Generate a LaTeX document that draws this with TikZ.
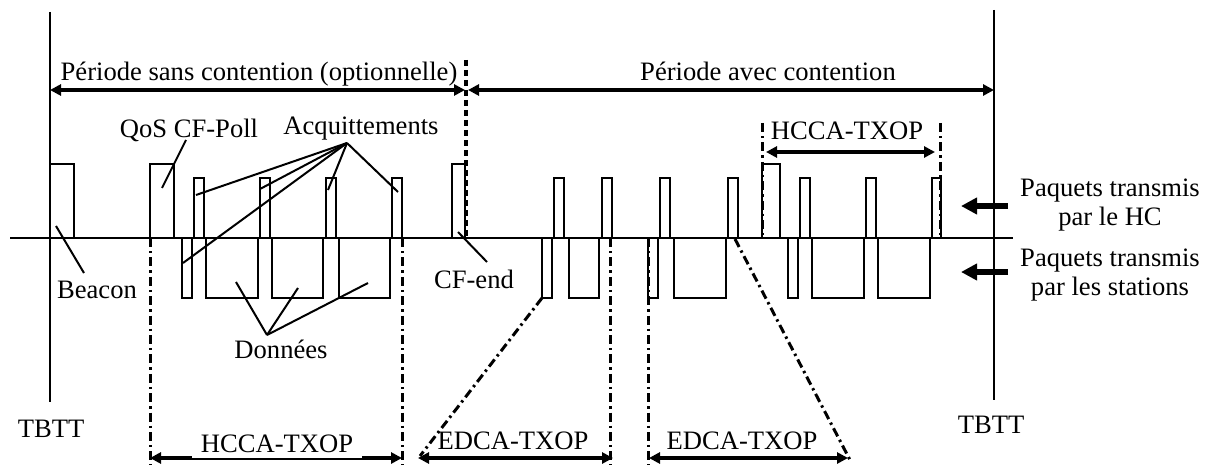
\documentclass[tikz,border=0pt]{standalone}
\usepackage{fontspec}
\setmainfont{Liberation Serif}
\usetikzlibrary{arrows.meta}
\begin{document}
\begin{tikzpicture}[x=0.5pt,y=-0.5pt,
  font=\fontsize{13.3}{14.8}\selectfont,
  pkt/.style={draw=black,line width=1.1pt},
  axisline/.style={line width=1.1pt},
  leader/.style={line width=1pt},
  ddot/.style={line width=1.5pt, dash pattern=on 4.5pt off 2pt on 1.2pt off 2pt},
  dsh/.style={line width=1.6pt, dash pattern=on 3pt off 2pt},
  span/.style={line width=1.9pt, {Triangle[length=5.5pt,width=5.5pt]}-{Triangle[length=5.5pt,width=5.5pt]}},
  pointer/.style={line width=2.7pt, -{Triangle[length=8pt,width=8pt]}},
  lbl/.style={anchor=base, inner sep=0pt},
]
\useasboundingbox (0,0) rectangle (1209,465);

% packets sent by the HC (above the axis)
\foreach \a/\b in {50/74,150/174,452/465,762/780}
  \draw[pkt] (\a,238) rectangle (\b,164);
\foreach \a/\b in {194/204,260/270,326/336,392/402,554/564,602/612,660/670,728/738,800/810,866/876,932/941}
  \draw[pkt] (\a,238) rectangle (\b,178);
% packets sent by the stations (below the axis)
\foreach \a/\b in {182/192,206/258,272/323,339/390,542/552,569/599,648/658,674/726,788/798,812/864,878/930}
  \draw[pkt] (\a,238) rectangle (\b,298);

% time axis and TBTT markers
\coordinate (axL) at (10,238);
\coordinate (axR) at (1013,238);
\draw[axisline] (axL) -- (axR);
\coordinate (t1a) at (50,12);  \coordinate (t1b) at (50,402);
\coordinate (t2a) at (994,10); \coordinate (t2b) at (994,400);
\draw[axisline] (t1a) -- (t1b);
\draw[axisline] (t2a) -- (t2b);
\node[lbl] (tbtt1) at (51,437) {TBTT};
\node[lbl] (tbtt2) at (991,433) {TBTT};

% periods
\coordinate (sep1) at (466,60); \coordinate (sep2) at (466,238);
\draw[dsh] (sep1) -- (sep2);
\coordinate (pA) at (50,90); \coordinate (pB) at (465,90);
\coordinate (pC) at (468,90); \coordinate (pD) at (994,90);
\draw[span] (pA) -- (pB);
\draw[span] (pC) -- (pD);
\node[lbl] (cfp) at (259,81) {Période sans contention (optionnelle)};
\node[lbl] (cp) at (768,81) {Période avec contention};

% labels with leader lines
\node[lbl] (qos) at (189,138) {QoS CF-Poll};
\coordinate (qos1) at (186,140); \coordinate (qos2) at (162,188);
\draw[leader] (qos1) -- (qos2);

\node[lbl] (acq) at (361,134) {Acquittements};
\coordinate (acqp) at (347,143);
\coordinate (k1) at (196,195);
\coordinate (k2) at (260,189);
\coordinate (k3) at (183,263);
\coordinate (k4) at (328,190);
\coordinate (k5) at (398,192);
\foreach \k in {k1,k2,k3,k4,k5} \draw[leader] (acqp) -- (\k);

\node[lbl] (beacon) at (97,298) {Beacon};
\coordinate (b1) at (56,226); \coordinate (b2) at (84,273);
\draw[leader] (b1) -- (b2);

\node[lbl] (cfend) at (474,288) {CF-end};
\coordinate (c1) at (458,232); \coordinate (c2) at (487,262);
\draw[leader] (c1) -- (c2);

\node[lbl] (don) at (281,358) {Données};
\coordinate (dp) at (267,335);
\coordinate (d1) at (236,282);
\coordinate (d2) at (298,288);
\coordinate (d3) at (368,283);
\foreach \k in {d1,d2,d3} \draw[leader] (dp) -- (\k);

% TXOP boundaries
\foreach \x in {150,402,610,648}
  \draw[ddot] (\x,238) -- (\x,465);
\draw[ddot] (762,123) -- (762,238);
\draw[ddot] (940,123) -- (940,238);
\coordinate (e1a) at (542,298); \coordinate (e1b) at (420,456);
\draw[ddot] (e1a) -- (e1b);
\coordinate (e2a) at (735,239); \coordinate (e2b) at (850,460);
\draw[ddot] (e2a) -- (e2b);

% TXOP spans
\coordinate (h1) at (766,152); \coordinate (h2) at (935,152);
\draw[span] (h1) -- (h2);
\node[lbl] (hccaup) at (847,140) {HCCA-TXOP};

\coordinate (hb1) at (150,458); \coordinate (hb2) at (402,458);
\draw[span] (hb1) -- (hb2);
\node[anchor=base, fill=white, inner xsep=4.25pt, inner ysep=2.8pt, text depth=0pt] (hccadn) at (277,452) {HCCA-TXOP};

\coordinate (ea1) at (418,458); \coordinate (ea2) at (613,458);
\draw[span] (ea1) -- (ea2);
\node[lbl] (edca1) at (513,449) {EDCA-TXOP};

\coordinate (eb1) at (649,458); \coordinate (eb2) at (848,458);
\draw[span] (eb1) -- (eb2);
\node[lbl] (edca2) at (742,449) {EDCA-TXOP};

% legend on the right
\node[align=center, inner sep=0pt] (phc) at (1110,205) {Paquets transmis\\par le HC};
\node[align=center, inner sep=0pt] (pst) at (1110,275) {Paquets transmis\\par les stations};
\coordinate (ar1a) at (1008,206); \coordinate (ar1b) at (961,206);
\coordinate (ar2a) at (1008,272); \coordinate (ar2b) at (961,272);
\draw[pointer] (ar1a) -- (ar1b);
\draw[pointer] (ar2a) -- (ar2b);
\end{tikzpicture}
\end{document}
